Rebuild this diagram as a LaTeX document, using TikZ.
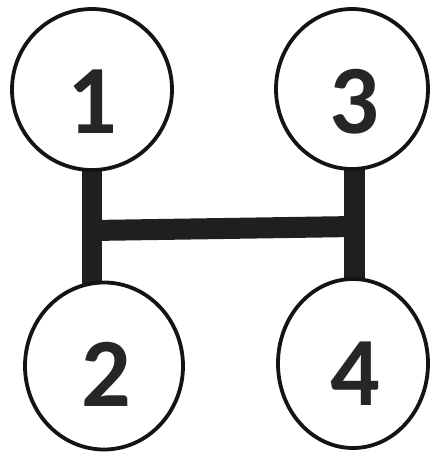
\documentclass[tikz,border=0pt]{standalone}
\usepackage{fontspec}
\setmainfont{Carlito}
\usetikzlibrary{shapes.geometric,backgrounds}
\begin{document}
\begin{tikzpicture}[x=1pt,y=-1pt,
  gear/.style={draw=black!92, line width=3.8pt, fill=white, ellipse, inner sep=0pt},
  num/.style={inner sep=0pt, text=black!85, font=\fontsize{98}{98}\selectfont\bfseries},
  bar/.style={draw=black!88, line cap=butt}]
\useasboundingbox (0,0) rectangle (431,459);
\node[gear, minimum width=160pt, minimum height=161pt] (n1) at (92,89.5) {};
\node[gear, minimum width=152pt, minimum height=160pt] (n3) at (352,89) {};
\node[gear, minimum width=158pt, minimum height=167pt] (n2) at (104,366) {};
\node[gear, minimum width=150pt, minimum height=169pt] (n4) at (353,363.5) {};
\node[num] (t1) at (92,102) {1};
\node[num] (t3) at (354,102) {3};
\node[num] (t2) at (106,374) {2};
\node[num] (t4) at (355,374) {4};
\coordinate (l1) at (92,160);
\coordinate (l2) at (92,300);
\coordinate (r1) at (354.5,160);
\coordinate (r2) at (354.5,300);
\coordinate (hl) at (92,230.5);
\coordinate (hr) at (354.5,226.5);
\begin{scope}[on background layer]
\draw[bar, line width=20pt] (n1.center) -- (l2);
\draw[bar, line width=21pt] (r1 |- n3.center) -- (r2);
\draw[bar, line width=21pt] (hl) -- (hr);
\end{scope}
\end{tikzpicture}
\end{document}
